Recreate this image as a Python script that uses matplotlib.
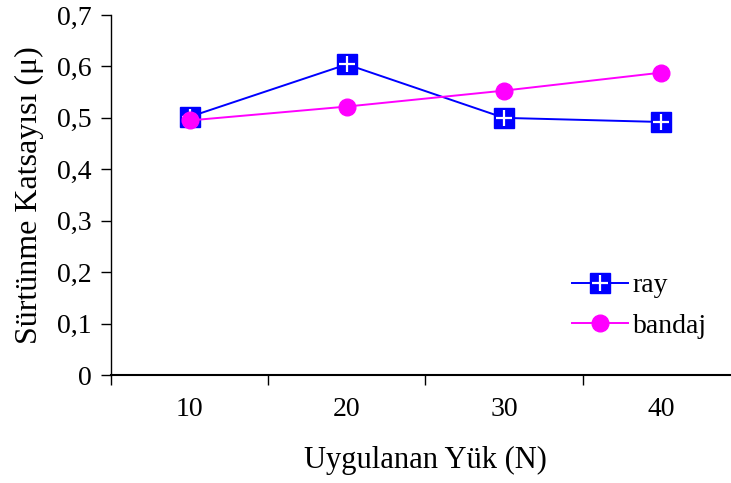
import matplotlib
matplotlib.use("Agg")
import matplotlib.pyplot as plt
from matplotlib.legend_handler import HandlerTuple

plt.rcParams['font.family'] = ['Liberation Serif', 'DejaVu Serif']

loads = ["10", "20", "30", "40"]
ray = [0.502, 0.604, 0.500, 0.492]
bandaj = [0.495, 0.522, 0.553, 0.588]
yticks = [0, 0.1, 0.2, 0.3, 0.4, 0.5, 0.6, 0.7]
ytick_labels = ["0", "0,1", "0,2", "0,3", "0,4", "0,5", "0,6", "0,7"]

fig = plt.figure(figsize=(7.31, 4.83), dpi=100)
ax = fig.add_axes([0.1518, 0.2236, 0.8605, 0.7453])

x = list(range(1, len(loads) + 1))
ray_sq, = ax.plot(x, ray, color='#0000ff', lw=1.4, marker='s', markersize=15,
                  markerfacecolor='#0000ff', markeredgecolor='#0000ff', zorder=3)
ray_pl, = ax.plot(x, ray, lw=0, marker='+', markersize=12, markeredgewidth=1.6,
                  markeredgecolor='white', zorder=4)
band, = ax.plot(x, bandaj, color='#ff00ff', lw=1.4, marker='o', markersize=12,
                markerfacecolor='#ff00ff', markeredgecolor='#ff00ff', zorder=5)

ax.set_xlim(0.5, len(loads) + 0.5)
ax.set_ylim(0, 0.7)
ax.set_yticks(yticks)
ax.set_yticklabels(ytick_labels, fontsize=20)
ax.set_xticks(x)
ax.set_xticklabels(loads, fontsize=20)
ax.set_xticks([i + 0.5 for i in range(0, len(loads) + 1)], minor=True)
ax.tick_params(axis='x', which='major', length=0, pad=16)
ax.tick_params(axis='x', which='minor', length=7, width=1, direction='out')
ax.tick_params(axis='y', length=7, width=1, direction='out', pad=7)

for s in ['top', 'right']:
    ax.spines[s].set_visible(False)
ax.spines['left'].set_linewidth(1.0)
ax.spines['bottom'].set_linewidth(1.5)

ax.set_ylabel("Sürtünme Katsayısı (μ)", fontsize=23, labelpad=9)
ax.set_xlabel("Uygulanan Yük (N)", fontsize=22, labelpad=17)

ax.legend([(ray_sq, ray_pl), band], ["ray", "bandaj"],
          handler_map={tuple: HandlerTuple(ndivide=1)},
          frameon=False, fontsize=20, loc='upper left',
          bbox_to_anchor=(572 / 731, 1 - 273 / 483), bbox_transform=fig.transFigure,
          borderaxespad=0, borderpad=0,
          handlelength=2.0, labelspacing=0.55, handletextpad=0.18)

fig.savefig("out.png", dpi=100)
